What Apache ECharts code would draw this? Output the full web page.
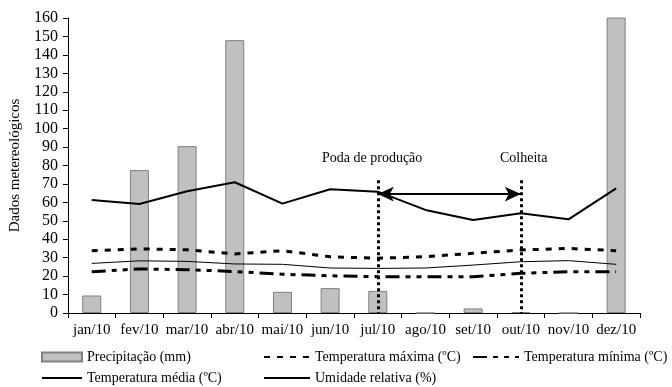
<!DOCTYPE html>
<html>
<head>
<meta charset="utf-8">
<script src="https://cdn.jsdelivr.net/npm/echarts@6/dist/echarts.min.js"></script>
<style>
  html, body { margin: 0; padding: 0; background: #fff; }
  #chart { width: 672px; height: 387px; }
</style>
</head>
<body>
<div id="chart"></div>
<script>
// meses
const months = ['jan/10', 'fev/10', 'mar/10', 'abr/10', 'mai/10', 'jun/10', 'jul/10', 'ago/10', 'set/10', 'out/10', 'nov/10', 'dez/10']
// dados
const precipitacao = [9.5, 77.5, 90.5, 148, 11.5, 13.5, 12, 0, 2.5, 0.5, 0, 250]
const tempMaxima = [33.8, 34.8, 34.3, 32, 33.8, 30.5, 29.7, 30.5, 32.4, 34.2, 35, 33.8]
const tempMinima = [22.4, 23.9, 23.5, 22.5, 21, 20.2, 19.7, 19.7, 19.7, 21.5, 22.4, 22.4]
const tempMedia = [26.9, 28.3, 28, 26.6, 26.4, 24.4, 24.2, 24.4, 26, 27.8, 28.4, 26.4]
const umidade = [61.3, 59.1, 66, 70.9, 59.3, 67.1, 65.8, 55.9, 50.4, 54.1, 50.8, 67.6]
const yTicks = { min: 0, max: 160, step: 10 }

const serif = 'Liberation Serif'
const chart = echarts.init(document.getElementById('chart'))

// legenda: um componente por item para posicionar como no original
function legendAt(name, left, top, width, isLine) {
  const lg = {
    data: [name],
    left: left,
    top: top,
    itemWidth: width,
    itemHeight: 9,
    itemGap: 4,
    textStyle: { fontFamily: serif, fontSize: 14, color: '#000' },
  }
  // esconde o símbolo que o ECharts coloca no meio da linha
  if (isLine) lg.itemStyle = { opacity: 0 }
  else lg.icon = 'rect'
  return lg
}

chart.setOption({
  animation: false,
  grid: { left: 64, right: 32, top: 18, bottom: 74 },
  legend: [
    legendAt('Precipitação (mm)', 36, 345, 40, false),
    legendAt('Temperatura máxima (ºC)', 258, 345, 46, true),
    legendAt('Temperatura mínima (ºC)', 467, 345, 46, true),
    legendAt('Temperatura média (ºC)', 36, 366, 40, true),
    legendAt('Umidade relativa (%)', 258, 366, 46, true),
  ],
  xAxis: {
    type: 'category',
    data: months,
    axisLine: { lineStyle: { color: '#000', width: 1 } },
    axisTick: { show: true, length: 5, lineStyle: { color: '#000' } },
    axisLabel: { interval: 0, fontFamily: serif, fontSize: 15, color: '#000', margin: 10 },
  },
  yAxis: {
    type: 'value',
    min: yTicks.min,
    max: yTicks.max,
    interval: yTicks.step,
    name: 'Dados metereológicos',
    nameLocation: 'middle',
    nameGap: 38,
    nameTextStyle: { fontFamily: serif, fontSize: 15, color: '#000' },
    splitLine: { show: false },
    axisLine: { show: true, lineStyle: { color: '#000', width: 1 } },
    axisTick: { show: true, length: 5, lineStyle: { color: '#000' } },
    axisLabel: { fontFamily: serif, fontSize: 16, color: '#000', margin: 10 },
  },
  series: [
    {
      name: 'Precipitação (mm)',
      type: 'bar',
      data: precipitacao,
      barWidth: 19,
      clip: true,
      itemStyle: { color: '#c0c0c0', borderColor: '#808080', borderWidth: 1 },
    },
    {
      name: 'Temperatura máxima (ºC)',
      type: 'line',
      data: tempMaxima,
      symbol: 'none',
      lineStyle: { color: '#000', width: 3, type: [6, 7] },
      itemStyle: { color: '#000' },
    },
    {
      name: 'Temperatura mínima (ºC)',
      type: 'line',
      data: tempMinima,
      symbol: 'none',
      lineStyle: { color: '#000', width: 3, type: [14, 6, 5, 6, 5, 6] },
      itemStyle: { color: '#000' },
    },
    {
      name: 'Temperatura média (ºC)',
      type: 'line',
      data: tempMedia,
      symbol: 'none',
      lineStyle: { color: '#000', width: 1 },
      itemStyle: { color: '#000' },
    },
    {
      name: 'Umidade relativa (%)',
      type: 'line',
      data: umidade,
      symbol: 'none',
      lineStyle: { color: '#000', width: 2 },
      itemStyle: { color: '#000' },
      // linhas de poda e colheita + seta
      markLine: {
        silent: true,
        label: { show: false },
        symbol: 'none',
        lineStyle: { color: '#000', width: 3, type: [3, 3] },
        data: [
          [{ coord: ['jul/10', 72] }, { coord: ['jul/10', 0] }],
          [{ coord: ['out/10', 72] }, { coord: ['out/10', 0] }],
          [
            { coord: ['jul/10', 64.5], symbol: 'arrow', symbolSize: [11, 16] },
            { coord: ['out/10', 64.5], symbol: 'arrow', symbolSize: [11, 16], lineStyle: { type: 'solid', width: 2 } },
          ],
        ],
      },
    },
  ],
  graphic: [
    {
      type: 'text',
      left: 322,
      top: 151,
      style: { text: 'Poda de produção', font: '14px "Liberation Serif"', fill: '#000' },
    },
    {
      type: 'text',
      left: 500,
      top: 151,
      style: { text: 'Colheita', font: '14px "Liberation Serif"', fill: '#000' },
    },
  ],
})
</script>
</body>
</html>
